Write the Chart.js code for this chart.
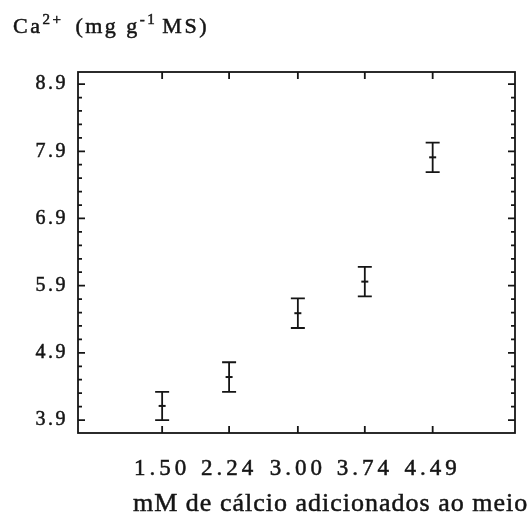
<!DOCTYPE html>
<html>
<head>
<meta charset="utf-8">
<script src="https://cdn.jsdelivr.net/npm/chart.js@4.4.1/dist/chart.umd.min.js"></script>
<style>
  body { margin: 0; background: #fff; }
  canvas { display: block; }
</style>
</head>
<body>
<canvas id="chart" width="528" height="517"></canvas>
<script>
// Ca2+ content of dry matter against calcium added to the medium (mean +/- error)
var doses = [1.50, 2.24, 3.00, 3.74, 4.49];
var doseLabels = ["1.50", "2.24", "3.00", "3.74", "4.49"];
var caMean = [4.11, 4.54, 5.49, 5.96, 7.81];
var caErr = [0.21, 0.22, 0.22, 0.22, 0.22];
var yTicks = [3.9, 4.9, 5.9, 6.9, 7.9, 8.9];

var SERIF = '"Liberation Serif", "Times New Roman", serif';
var INK = '#151515';

// run a scale's draw method with a given letter spacing
function spaced(scale, name, ls) {
    if (scale['_orig_' + name]) return;
    var orig = scale[name];
    scale['_orig_' + name] = orig;
    scale[name] = function () {
        var ctx = this.ctx;
        ctx.save();
        ctx.letterSpacing = ls;
        orig.apply(this, arguments);
        ctx.restore();
    };
}

var letterSpacing = {
    id: 'letterSpacing',
    afterLayout: function (chart) {
        spaced(chart.scales.x, 'drawLabels', '4px');
        spaced(chart.scales.y, 'drawLabels', '2.5px');
    }
};

// boxed frame with inward ticks on all four sides
var frame = {
    id: 'frame',
    afterDatasetsDraw: function (chart) {
        var ctx = chart.ctx, a = chart.chartArea;
        var xs = chart.scales.x, ys = chart.scales.y;
        ctx.save();
        ctx.strokeStyle = INK;
        ctx.lineWidth = 1.8;
        ctx.strokeRect(a.left, a.top, a.right - a.left, a.bottom - a.top);
        ctx.beginPath();
        for (var i = 0; ; i++) {
            var v = yTicks[0] + i * 0.2;
            if (v > ys.max) break;
            var py = ys.getPixelForValue(v);
            var len = (i % 5 === 0) ? 7 : 4;
            ctx.moveTo(a.left, py); ctx.lineTo(a.left + len, py);
            ctx.moveTo(a.right, py); ctx.lineTo(a.right - len, py);
        }
        doses.forEach(function (d) {
            var px = xs.getPixelForValue(d);
            ctx.moveTo(px, a.bottom); ctx.lineTo(px, a.bottom - 7);
            ctx.moveTo(px, a.top); ctx.lineTo(px, a.top + 7);
        });
        ctx.stroke();
        ctx.restore();
    }
};

// vertical error bars with caps
var errorBars = {
    id: 'errorBars',
    afterDatasetsDraw: function (chart) {
        var ctx = chart.ctx;
        var xs = chart.scales.x, ys = chart.scales.y;
        ctx.save();
        ctx.strokeStyle = INK;
        ctx.lineWidth = 1.8;
        ctx.beginPath();
        doses.forEach(function (d, i) {
            var px = xs.getPixelForValue(d);
            var hi = ys.getPixelForValue(caMean[i] + caErr[i]);
            var lo = ys.getPixelForValue(caMean[i] - caErr[i]);
            ctx.moveTo(px, hi); ctx.lineTo(px, lo);
            ctx.moveTo(px - 7, hi); ctx.lineTo(px + 7, hi);
            ctx.moveTo(px - 7, lo); ctx.lineTo(px + 7, lo);
        });
        ctx.stroke();
        ctx.restore();
    }
};

// draws a run of text pieces, superscripts raised and smaller
function drawPieces(ctx, pieces, x, y, size, ls) {
    ctx.letterSpacing = ls;
    pieces.forEach(function (p) {
        var s = p.sup ? Math.round(size * 0.66) : size;
        var py = p.sup ? y - size * 0.42 : y;
        ctx.font = s + 'px ' + SERIF;
        ctx.fillText(p.text, x, py);
        ctx.strokeText(p.text, x, py);
        x += ctx.measureText(p.text).width + (p.gap || 0);
    });
}

var titles = {
    id: 'titles',
    afterDraw: function (chart) {
        var ctx = chart.ctx;
        ctx.save();
        ctx.fillStyle = INK;
        ctx.strokeStyle = INK;
        ctx.lineWidth = 0.5;
        ctx.textBaseline = 'alphabetic';
        ctx.textAlign = 'left';
        drawPieces(ctx, [
            { text: 'Ca' },
            { text: '2+', sup: true, gap: 12 },
            { text: '(mg g' },
            { text: '-1', sup: true, gap: 5 },
            { text: 'MS)' }
        ], 13, 33, 22, '2.5px');

        var label = 'mM de cálcio adicionados ao meio';
        ctx.font = '26px ' + SERIF;
        ctx.letterSpacing = '1px';
        ctx.fillText(label, 133, 511);
        ctx.strokeText(label, 133, 511);
        ctx.restore();
    }
};

new Chart(document.getElementById('chart'), {
    type: 'scatter',
    data: {
        datasets: [{
            data: doses.map(function (d, i) { return { x: d, y: caMean[i] }; }),
            pointStyle: 'line',
            radius: 3.5,
            borderWidth: 2,
            borderColor: INK,
            backgroundColor: INK
        }]
    },
    options: {
        responsive: false,
        animation: false,
        devicePixelRatio: 1,
        layout: { padding: { top: 72, right: 13, bottom: 0, left: 0 } },
        plugins: {
            legend: { display: false },
            tooltip: { enabled: false }
        },
        scales: {
            x: {
                type: 'linear',
                min: 0.57,
                max: 5.4,
                grid: { display: false, drawTicks: false },
                border: { display: false },
                afterBuildTicks: function (scale) {
                    scale.ticks = doses.map(function (d) { return { value: d }; });
                },
                afterFit: function (scale) { scale.height = 84; },
                ticks: {
                    autoSkip: false,
                    maxRotation: 0,
                    padding: 22,
                    color: INK,
                    textStrokeColor: INK,
                    textStrokeWidth: 0.5,
                    font: { family: SERIF, size: 23 },
                    callback: function (v) {
                        var i = doses.indexOf(v);
                        return i >= 0 ? doseLabels[i] : '';
                    }
                }
            },
            y: {
                min: 3.707,
                max: 9.08,
                grid: { display: false, drawTicks: false },
                border: { display: false },
                afterBuildTicks: function (scale) {
                    scale.ticks = yTicks.map(function (v) { return { value: v }; });
                },
                afterFit: function (scale) { scale.width = 78; },
                ticks: {
                    padding: 10,
                    color: INK,
                    textStrokeColor: INK,
                    textStrokeWidth: 0.5,
                    font: { family: SERIF, size: 20 },
                    callback: function (v) { return v.toFixed(1); }
                }
            }
        }
    },
    plugins: [letterSpacing, frame, errorBars, titles]
});
</script>
</body>
</html>
